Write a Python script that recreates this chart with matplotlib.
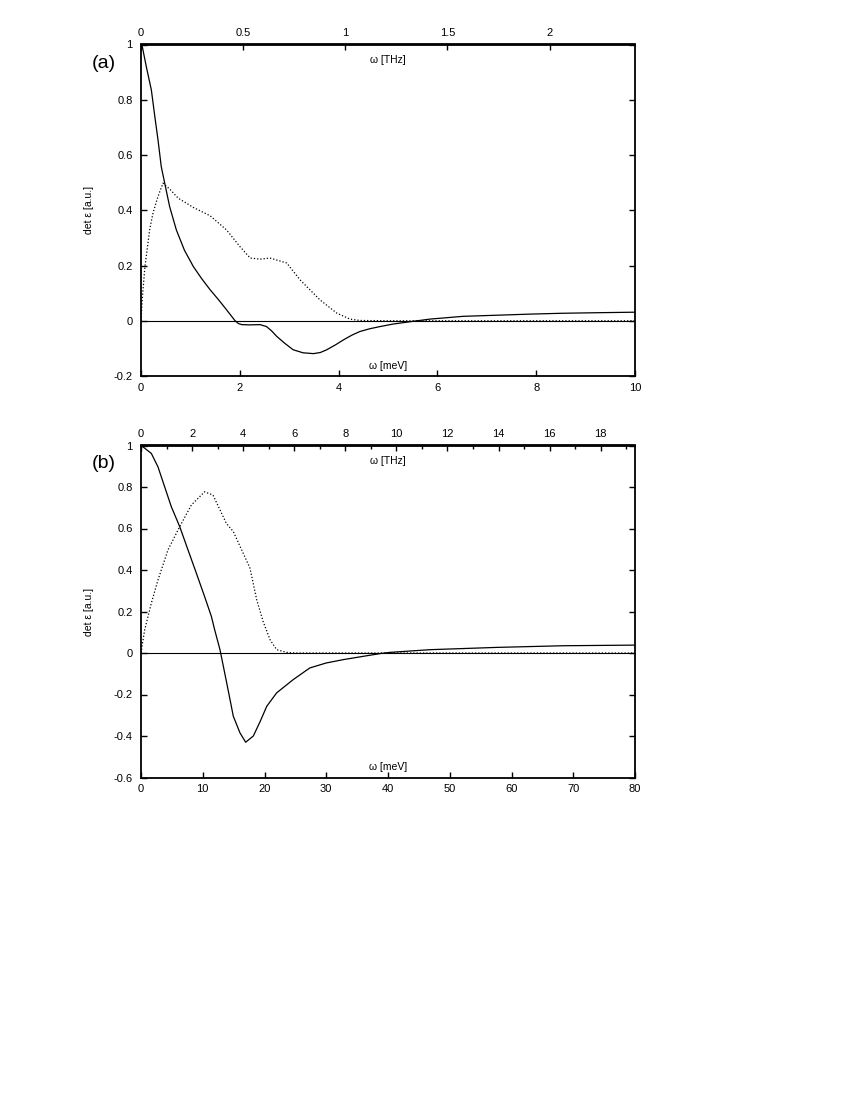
import matplotlib
matplotlib.use("Agg")
import matplotlib.pyplot as plt
from matplotlib.ticker import MultipleLocator, FuncFormatter

plt.rcParams['font.family'] = ['Liberation Sans', 'DejaVu Sans']

MEV_PER_THZ = 4.13567

# Panel (a) data (omega in meV)
a_solid_x = [0.0, 0.02, 0.107, 0.21, 0.28, 0.344, 0.41, 0.48, 0.58, 0.715, 0.88, 1.06, 1.23,
             1.40, 1.57, 1.73, 1.90, 1.97, 2.04, 2.2, 2.41, 2.54, 2.64, 2.75, 2.92, 3.08,
             3.28, 3.49, 3.63, 3.76, 3.93, 4.10, 4.27, 4.43, 4.63, 4.84, 5.1, 5.51, 5.85,
             6.52, 7.2, 7.87, 8.5, 9.2, 10.0]
a_solid_y = [1.0, 0.998, 0.92, 0.835, 0.739, 0.655, 0.558, 0.498, 0.413, 0.329, 0.255, 0.196,
             0.152, 0.112, 0.076, 0.040, 0.001, -0.010, -0.014, -0.015, -0.014, -0.021,
             -0.036, -0.057, -0.083, -0.105, -0.116, -0.119, -0.115, -0.105, -0.088, -0.069,
             -0.052, -0.039, -0.029, -0.021, -0.012, -0.002, 0.006, 0.016, 0.020, 0.024,
             0.027, 0.029, 0.031]

a_dot_x = [0.0, 0.03, 0.08, 0.176, 0.243, 0.344, 0.445, 0.59, 0.75, 1.06, 1.40, 1.73, 2.0,
           2.21, 2.41, 2.61, 2.95, 3.22, 3.62, 3.96, 4.23, 4.43, 5.0, 10.0]
a_dot_y = [0.0, 0.09, 0.196, 0.33, 0.39, 0.45, 0.498, 0.475, 0.444, 0.41, 0.38, 0.329, 0.269,
           0.227, 0.223, 0.227, 0.209, 0.148, 0.076, 0.028, 0.006, 0.001, 0.0, 0.0]

# Panel (b) data (omega in meV)
b_solid_x = [0.0, 0.16, 1.67, 2.75, 3.84, 4.91, 6.27, 7.61, 8.96, 10.3, 11.4, 11.93, 12.79,
             13.88, 14.95, 16.03, 16.95, 18.19, 19.3, 20.36, 21.97, 24.66, 27.34, 30.0,
             32.76, 36.0, 38.7, 40.3, 46.8, 57.6, 68.4, 80.0]
b_solid_y = [1.0, 0.997, 0.962, 0.897, 0.80, 0.705, 0.609, 0.497, 0.385, 0.272, 0.176, 0.112,
             0.016, -0.144, -0.305, -0.385, -0.43, -0.40, -0.33, -0.257, -0.192, -0.128,
             -0.072, -0.048, -0.032, -0.016, -0.003, 0.003, 0.016, 0.027, 0.035, 0.038]

b_dot_x = [0.0, 0.6, 1.67, 2.75, 4.37, 6.27, 8.15, 10.3, 11.66, 13.82, 14.95, 17.65, 18.74,
           19.8, 20.9, 21.97, 23.6, 25.0, 80.0]
b_dot_y = [0.0, 0.112, 0.24, 0.352, 0.497, 0.609, 0.713, 0.777, 0.761, 0.625, 0.585, 0.409,
           0.256, 0.15, 0.064, 0.016, 0.003, 0.0, 0.0]

W, H = 850, 1100
fig = plt.figure(figsize=(W / 100, H / 100), dpi=100)

panels = [
    dict(rect=[141 / W, 1 - 376 / H, 494 / W, 331.5 / H], xlim=(0, 10), ylim=(-0.2, 1.0),
         xmaj=2, thz_maj=0.5, thz_min=None, sx=a_solid_x, sy=a_solid_y, dx=a_dot_x, dy=a_dot_y,
         label='(a)', lab_y=63),
    dict(rect=[141 / W, 1 - 777.5 / H, 494 / W, 332 / H], xlim=(0, 80), ylim=(-0.6, 1.0),
         xmaj=10, thz_maj=2, thz_min=1, sx=b_solid_x, sy=b_solid_y, dx=b_dot_x, dy=b_dot_y,
         label='(b)', lab_y=464),
]

fmt = FuncFormatter(lambda v, pos: '%g' % round(v, 2))

for p in panels:
    ax = fig.add_axes(p['rect'])
    ax.plot(p['sx'], p['sy'], color='black', lw=0.9)
    ax.plot(p['dx'], p['dy'], color='black', lw=0.9, linestyle=(0, (1, 1.6)))
    ax.axhline(0, color='black', lw=0.8)
    ax.set_xlim(*p['xlim'])
    ax.set_ylim(*p['ylim'])
    ax.xaxis.set_major_locator(MultipleLocator(p['xmaj']))
    ax.yaxis.set_major_locator(MultipleLocator(0.2))
    ax.tick_params(axis='both', direction='in', length=4, width=1.0, labelsize=8,
                   top=False, right=True, pad=5)
    ax.tick_params(axis='y', pad=6)
    for s in ax.spines.values():
        s.set_linewidth(1.3)
    ax.xaxis.set_major_formatter(fmt)
    ax.yaxis.set_major_formatter(fmt)
    ax.set_ylabel('det ε [a.u.]', fontsize=7.5, labelpad=14)

    sec = ax.secondary_xaxis('top', functions=(lambda x: x / MEV_PER_THZ,
                                                 lambda t: t * MEV_PER_THZ))
    sec.xaxis.set_major_locator(MultipleLocator(p['thz_maj']))
    if p['thz_min']:
        sec.xaxis.set_minor_locator(MultipleLocator(p['thz_min']))
    sec.tick_params(axis='x', which='major', direction='in', length=4, width=1.0,
                    labelsize=8, pad=5)
    sec.tick_params(axis='x', which='minor', direction='in', length=3, width=1.0)
    sec.xaxis.set_major_formatter(fmt)
    sec.spines['top'].set_linewidth(1.3)

    ax.text(0.5, 0.952, 'ω [THz]', transform=ax.transAxes, ha='center', va='center',
            fontsize=7.5)
    ax.text(0.5, 0.031, 'ω [meV]', transform=ax.transAxes, ha='center', va='center',
            fontsize=7.5)
    fig.text(104 / W, 1 - p['lab_y'] / H, p['label'], ha='center', va='center', fontsize=14)

fig.savefig('out.png', dpi=100)
